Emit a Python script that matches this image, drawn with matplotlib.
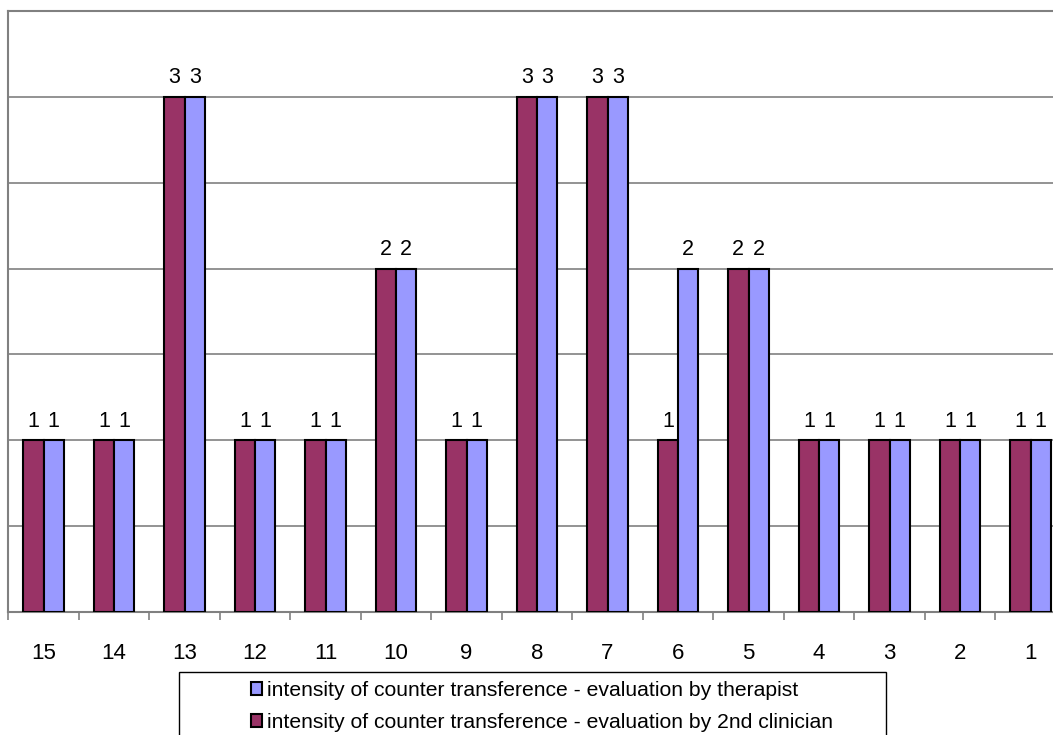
import matplotlib
matplotlib.use("Agg")
import matplotlib.pyplot as plt
from matplotlib.patches import Rectangle, Patch
import numpy as np

plt.rcParams['font.family'] = ['Liberation Sans', 'DejaVu Sans']

categories = ["15", "14", "13", "12", "11", "10", "9", "8", "7", "6", "5", "4", "3", "2", "1"]
clinician = [1, 1, 3, 1, 1, 2, 1, 3, 3, 1, 2, 1, 1, 1, 1]
therapist = [1, 1, 3, 1, 1, 2, 1, 3, 3, 2, 2, 1, 1, 1, 1]
label_therapist = "intensity of counter transference - evaluation by therapist"
label_clinician = "intensity of counter transference - evaluation by 2nd clinician"

maroon = "#993366"
lilac = "#9999FF"
grey = "#808080"

W, H = 1053, 735
fig = plt.figure(figsize=(W / 100, H / 100), dpi=100)
ax = fig.add_axes([8.3 / W, 123 / H, 1057.5 / W, 601 / H])

x = np.arange(len(categories))
bw = 0.29
ax.bar(x - bw / 2, clinician, bw, color=maroon, edgecolor="black", linewidth=1.5, zorder=3)
ax.bar(x + bw / 2, therapist, bw, color=lilac, edgecolor="black", linewidth=1.5, zorder=3)

for xi, v in zip(x - bw / 2, clinician):
    ax.text(xi, v + 0.08, str(v), ha="center", va="baseline", fontsize=15.5)
for xi, v in zip(x + bw / 2, therapist):
    ax.text(xi, v + 0.08, str(v), ha="center", va="baseline", fontsize=15.5)

ax.set_xlim(-0.5, len(categories) - 0.5)
ax.set_ylim(0, 3.5)
ax.set_yticks(np.arange(0.5, 3.5, 0.5))
ax.yaxis.grid(True, color=grey, linewidth=1.2)
ax.tick_params(axis="y", length=0, labelleft=False)

ax.set_xticks(x)
ax.set_xticklabels(categories, fontsize=16)
ax.set_xticks(np.arange(-0.5, len(categories), 1.0), minor=True)
ax.tick_params(axis="x", which="major", length=0, pad=22)
ax.tick_params(axis="x", which="minor", length=6, color=grey, width=1.2)

for side in ["left", "top", "right", "bottom"]:
    ax.spines[side].set_color(grey)
    ax.spines[side].set_linewidth(1.5)

# legend box (runs past the lower edge of the figure)
fig.patches.append(Rectangle((179 / W, -0.02), 707 / W, (735 - 672) / H + 0.02,
                             transform=fig.transFigure, facecolor="white",
                             edgecolor="black", linewidth=1.0))
handles = [Patch(facecolor=lilac, edgecolor="black", linewidth=1.5, label=label_therapist),
           Patch(facecolor=maroon, edgecolor="black", linewidth=1.5, label=label_clinician)]
fig.legend(handles=handles, loc="upper left", bbox_to_anchor=(236 / W, 1 - 666 / H),
           frameon=False, fontsize=15.2, handlelength=0.55, handleheight=0.55,
           handletextpad=0.2, labelspacing=0.64, borderpad=0.2)

fig.savefig("out.png", dpi=100)
